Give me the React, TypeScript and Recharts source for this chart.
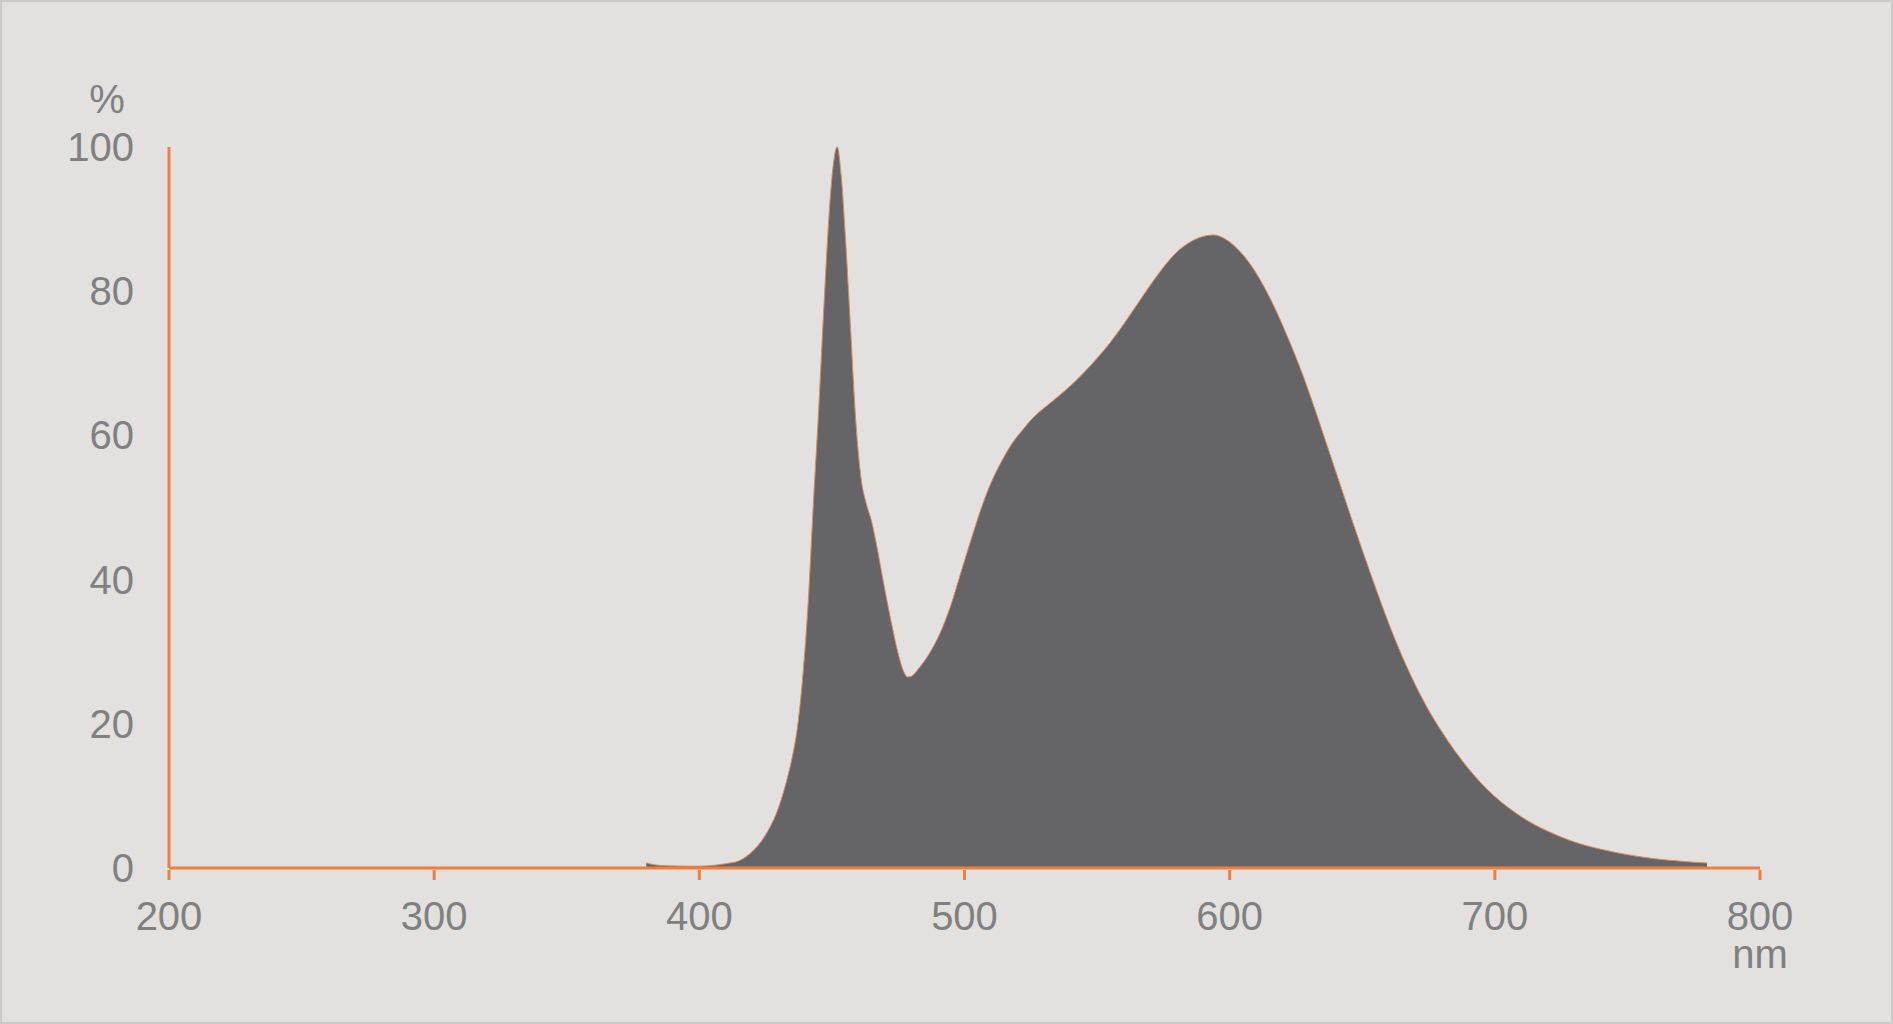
import React from 'react';
import { AreaChart, Area, XAxis, YAxis } from 'recharts';

// wavelength (nm) and relative intensity (%)
const wavelengths = [
  380, 383, 388, 395, 400, 405, 410, 415, 420, 425, 430, 433, 435, 437, 439, 441, 443, 445,
  447, 449, 450.5, 452, 453.5, 455, 457, 459, 461, 463, 465, 467, 469, 471, 473, 475, 477,
  478.5, 480, 483, 486, 489, 492, 495, 498, 501, 504, 507, 510, 514, 518, 522, 526, 530,
  535, 540, 545, 550, 555, 560, 565, 570, 575, 580, 585, 590, 594, 598, 602, 606, 610, 614,
  618, 622, 626, 630, 634, 638, 642, 646, 650, 655, 660, 665, 670, 675, 680, 685, 690, 695,
  700, 705, 710, 715, 720, 725, 730, 735, 740, 745, 750, 755, 760, 765, 770, 775, 780,
];
const intensity = [
  0.7, 0.45, 0.3, 0.25, 0.25, 0.35, 0.6, 1.0, 2.3, 4.6, 8.5, 12.2, 15.3, 19.5, 26.5, 36.5, 50.5, 63.5,
  78, 91, 97.5, 100, 96, 88, 75, 62, 54, 50.5, 48, 44.5, 40.5, 36.6, 33, 29.7, 27.3,
  26.5, 26.6, 27.8, 29.3, 31.2, 33.6, 36.6, 40.2, 43.8, 47.3, 50.6, 53.4, 56.4, 58.9, 60.8, 62.5, 63.8,
  65.3, 66.9, 68.7, 70.7, 72.9, 75.4, 78.1, 80.8, 83.3, 85.4, 86.8, 87.6, 87.8, 87.3, 86.2, 84.6, 82.5, 79.9,
  76.9, 73.5, 69.9, 65.9, 61.6, 57.2, 52.8, 48.4, 44.1, 38.9, 33.9, 29.4, 25.4, 21.9, 18.9, 16.2, 13.8, 11.7,
  9.9, 8.4, 7.1, 6.0, 5.1, 4.3, 3.6, 3.05, 2.6, 2.2, 1.85, 1.55, 1.3, 1.1, 0.95, 0.8, 0.7,
];
const xTicks = [200, 300, 400, 500, 600, 700, 800];
const yTicks = [0, 20, 40, 60, 80, 100];

const data = wavelengths.map((nm, i) => ({ nm, value: intensity[i] }));

const FONT = '"Liberation Sans", Arial, sans-serif';
const LABEL = '#808080';
const ORANGE = '#ef7d3c';
const AXIS_Y = 868;

const XTick = (props: any) => {
  const { x, payload } = props;
  return (
    <g>
      <line x1={x} x2={x} y1={AXIS_Y} y2={AXIS_Y + 10} stroke={ORANGE} strokeWidth={3} />
      <text x={x} y={928} textAnchor="middle" fill={LABEL} fontSize={40} fontFamily={FONT}>
        {payload.value}
      </text>
    </g>
  );
};

const YTick = (props: any) => {
  const { y, payload } = props;
  return (
    <text x={132} y={y + 14} textAnchor="end" fill={LABEL} fontSize={40} fontFamily={FONT}>
      {payload.value}
    </text>
  );
};

const App = () => {
  return (
    <div
      style={{
        position: 'absolute',
        left: 0,
        top: 0,
        width: 1893,
        height: 1024,
        background: '#e2e1df',
        boxSizing: 'border-box',
        border: '2px solid #cbcac8',
      }}
    >
      <AreaChart
        width={1889}
        height={1020}
        data={data}
        margin={{ top: 145, right: 131, bottom: 94, left: 67 }}
      >
        <Area
          type="monotone"
          dataKey="value"
          fill="#656466"
          fillOpacity={1}
          stroke="#d98a5f"
          strokeWidth={1}
          isAnimationActive={false}
          dot={false}
          activeDot={false}
        />
        <XAxis
          dataKey="nm"
          type="number"
          domain={[200, 800]}
          ticks={xTicks}
          axisLine={{ stroke: ORANGE, strokeWidth: 3 }}
          tickLine={false}
          tick={<XTick />}
          height={60}
          label={(p: any) => {
            const vb = p.viewBox;
            return (
              <text x={vb.x + vb.width} y={966} textAnchor="middle" fill={LABEL} fontSize={40} fontFamily={FONT}>
                nm
              </text>
            );
          }}
        />
        <YAxis
          type="number"
          domain={[0, 100]}
          ticks={yTicks}
          width={100}
          axisLine={{ stroke: ORANGE, strokeWidth: 3 }}
          tickLine={false}
          tick={<YTick />}
          label={(p: any) => {
            const vb = p.viewBox;
            return (
              <text x={105} y={vb.y - 34} textAnchor="middle" fill={LABEL} fontSize={40} fontFamily={FONT}>
                %
              </text>
            );
          }}
        />
      </AreaChart>
    </div>
  );
};

export default App;
